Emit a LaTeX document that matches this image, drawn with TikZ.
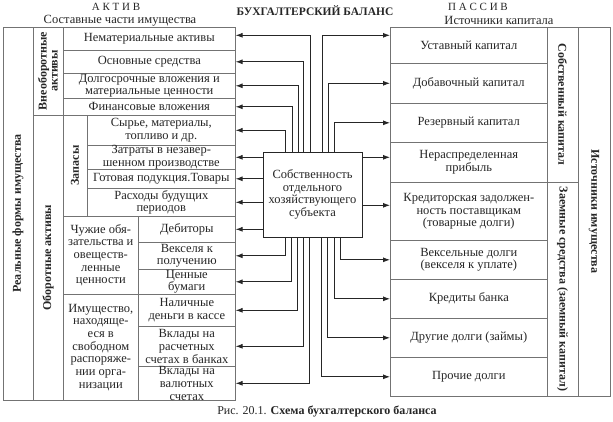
\documentclass[tikz,border=0pt]{standalone}
\usepackage{fontspec}
\setmainfont{Liberation Serif}
\usetikzlibrary{arrows.meta}
\newcommand\cellfont{\fontsize{12.5}{12.7}\selectfont}
\newcommand\rotfont{\fontsize{12}{11}\selectfont\bfseries}
\begin{document}
\begin{tikzpicture}[x=1pt,y=-1pt,
    cell/.style 2 args={draw=black!55,line width=0.6pt,anchor=north west,inner sep=0pt,
        minimum width=#1,minimum height=#2,align=center,font=\cellfont,text=black!85},
    vcell/.style 2 args={draw=black!55,line width=0.6pt,inner sep=0pt,
        minimum width=#1,minimum height=#2,align=center,font=\rotfont,text=black!85},
    head/.style={inner sep=0pt,font=\cellfont,text=black!85},
    arr/.style={draw=black!85,line width=0.9pt,-{Latex[length=7pt,width=5pt]}}]
    \useasboundingbox (0,0) rectangle (613,422);
    % titles
    \node[head,font=\fontsize{11}{11}\selectfont] (aktiv) at (116,6.5) {А К Т И В};
    \node[head] (sostav) at (120,20.5) {Составные части имущества};
    \node[head,font=\fontsize{11.5}{12}\selectfont\bfseries] (balans) at (315,11) {БУХГАЛТЕРСКИЙ БАЛАНС};
    \node[head,font=\fontsize{11}{11}\selectfont] (passiv) at (478,6.5) {П А С С И В};
    \node[head] (istk) at (499,20.5) {Источники капитала};
    % aktiv
    \node[vcell={373pt}{30pt},rotate=90] (real) at (18,213.5) {Реальные формы имущества};
    \node[vcell={88pt}{30pt},rotate=90] (vneob) at (48,71) {Внеоборотные\\активы};
    \node[vcell={285pt}{30pt},rotate=90] (obor) at (48,257.5) {Оборотные активы};
    \node[vcell={101pt}{24pt},rotate=90] (zapasy) at (75,165.5) {Запасы};
    \node[cell={172pt}{23pt}] (nemat) at (63,27) {Нематериальные активы};
    \node[cell={172pt}{23pt}] (osn) at (63,50) {Основные средства};
    \node[cell={172pt}{25pt}] (dolg) at (63,73) {Долгосрочные вложения и\\материальные ценности};
    \node[cell={172pt}{17pt}] (fin) at (63,98) {Финансовые вложения};
    \node[cell={148pt}{30pt}] (syr) at (87,115) {Сырье, материалы,\\топливо и др.};
    \node[cell={148pt}{24pt}] (zatr) at (87,145) {Затраты в незавер-\\шенном производстве};
    \node[cell={148pt}{19pt}] (gotov) at (87,169) {Готовая подукция.Товары};
    \node[cell={148pt}{28pt}] (rashod) at (87,188) {Расходы будущих\\периодов};
    \node[cell={75pt}{78pt}] (chuzh) at (63,216) {Чужие обя-\\зательства и\\овеществ-\\ленные\\ценности};
    \node[cell={75pt}{106pt}] (imush) at (63,294) {Имущество,\\находяще-\\еся в\\свободном\\распоряже-\\нии орга-\\низации};
    \node[cell={97pt}{26pt}] (debit) at (138,216) {Дебиторы};
    \node[cell={97pt}{27pt}] (veksp) at (138,242) {Векселя к\\получению};
    \node[cell={97pt}{25pt}] (cenn) at (138,269) {Ценные\\бумаги};
    \node[cell={97pt}{32pt}] (nalich) at (138,294) {Наличные\\деньги в кассе};
    \node[cell={97pt}{40pt}] (vklras) at (138,326) {Вклады на\\расчетных\\счетах в банках};
    \node[cell={97pt}{34pt}] (vklval) at (138,366) {Вклады на\\валютных\\счетах};
    % passiv
    \node[cell={157pt}{36pt}] (ust) at (390,27) {Уставный капитал};
    \node[cell={157pt}{40pt}] (dob) at (390,63) {Добавочный капитал};
    \node[cell={157pt}{39pt}] (rez) at (390,103) {Резервный капитал};
    \node[cell={157pt}{40pt}] (nerasp) at (390,142) {Нераспределенная\\прибыль};
    \node[cell={157pt}{58pt}] (kredit) at (390,182) {Кредиторская задолжен-\\ность поставщикам\\(товарные долги)};
    \node[cell={157pt}{39pt}] (veksd) at (390,240) {Вексельные долги\\(векселя к уплате)};
    \node[cell={157pt}{39pt}] (bank) at (390,279) {Кредиты банка};
    \node[cell={157pt}{39pt}] (drug) at (390,318) {Другие долги (займы)};
    \node[cell={157pt}{39pt}] (proch) at (390,357) {Прочие долги};
    \node[vcell={155pt}{31pt},rotate=-90] (sobst) at (562.5,104.5) {Собственный капитал};
    \node[vcell={214pt}{31pt},rotate=-90] (zaem) at (562.5,289) {Заемные средства (заемный капитал)};
    \node[vcell={369pt}{32pt},rotate=-90] (istoch) at (594,211.5) {Источники имущества};
    % centre
    \node[draw=black!85,line width=0.8pt,minimum width=99pt,minimum height=85pt,inner sep=0pt,
        align=center,font=\cellfont,text=black!85] (subj) at (312.5,194.5)
        {Собственность\\отдельного\\хозяйствующего\\субъекта};
    \coordinate (tnemat) at ([yshift=3.5pt]nemat.east);
    \coordinate (tust) at ([yshift=10pt]ust.west);
    \coordinate (tner) at ([yshift=5pt]nerasp.west);
    \coordinate (tkred) at ([yshift=6pt]kredit.west);
    % arrows to aktiv
    \draw[arr] ([xshift=-2.5pt]subj.north) |- (tnemat);
    \draw[arr] ([xshift=-9.5pt]subj.north) |- (osn.east);
    \draw[arr] ([xshift=-14.5pt]subj.north) |- (dolg.east);
    \draw[arr] ([xshift=-20.5pt]subj.north) |- (fin.east);
    \draw[arr] ([xshift=-27.5pt]subj.north) |- (syr.east);
    \draw[arr] (subj.west |- zatr.east) -- (zatr.east);
    \draw[arr] (subj.west |- gotov.east) -- (gotov.east);
    \draw[arr] (subj.west |- rashod.east) -- (rashod.east);
    \draw[arr] (subj.west |- debit.east) -- (debit.east);
    \draw[arr] ([xshift=-27.5pt]subj.south) |- (veksp.east);
    \draw[arr] ([xshift=-21.5pt]subj.south) |- (cenn.east);
    \draw[arr] ([xshift=-15.5pt]subj.south) |- (nalich.east);
    \draw[arr] ([xshift=-9.5pt]subj.south) |- (vklras.east);
    \draw[arr] ([xshift=-3.5pt]subj.south) |- (vklval.east);
    % arrows to passiv
    \draw[arr] ([xshift=9.5pt]subj.north) |- (tust);
    \draw[arr] ([xshift=15.5pt]subj.north) |- (dob.west);
    \draw[arr] ([xshift=21.5pt]subj.north) |- (rez.west);
    \draw[arr] (subj.east |- tner) -- (tner);
    \draw[arr] (subj.east |- tkred) -- (tkred);
    \draw[arr] ([xshift=27.5pt]subj.south) |- (veksd.west);
    \draw[arr] ([xshift=21.5pt]subj.south) |- (bank.west);
    \draw[arr] ([xshift=14.5pt]subj.south) |- (drug.west);
    \draw[arr] ([xshift=8.5pt]subj.south) |- (proch.west);
    % caption
    \node[head,font=\fontsize{12}{12}\selectfont] (capt) at (327,411) {Рис. 20.1. \textbf{Схема бухгалтерского баланса}};
\end{tikzpicture}
\end{document}
